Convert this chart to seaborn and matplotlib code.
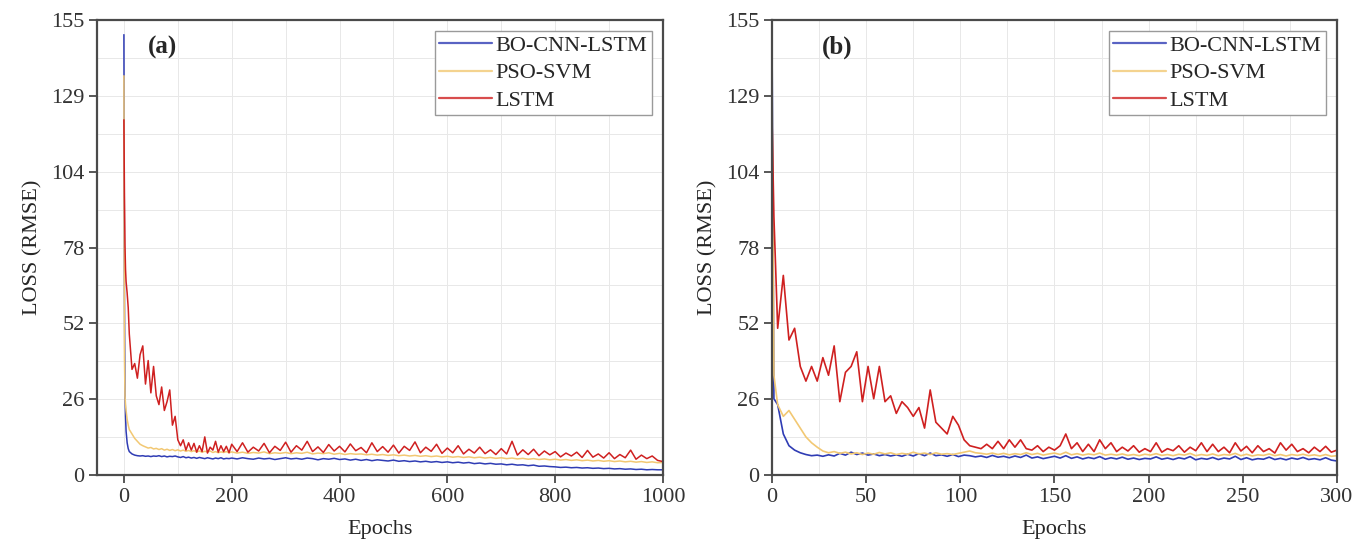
import numpy as np
import pandas as pd
import matplotlib
matplotlib.use("Agg")
import matplotlib.pyplot as plt
from matplotlib.lines import Line2D
from matplotlib.ticker import MultipleLocator
import seaborn as sns

# ---- data ----
models = ["BO-CNN-LSTM", "PSO-SVM", "LSTM"]
colors = {"BO-CNN-LSTM": "#2f3cb4", "PSO-SVM": "#f2c873", "LSTM": "#cf2020"}

# panel (a): 1000 epochs
epochs_a = [0, 1, 2, 3, 4, 6, 8] + list(range(10, 200, 5)) + list(range(200, 1001, 10))

bo_a = [150, 60, 28, 20, 15, 11, 9,
        8, 7.2, 6.8, 6.6, 6.5, 6.6, 6.4, 6.5, 6.3, 6.5, 6.4, 6.6, 6.3, 6.5, 6.2, 6.4, 6.3, 6.5, 6.2,
        6.0, 6.3, 5.9, 6.1, 5.8, 6.0, 5.7, 6.0, 5.8, 5.6, 5.9, 5.7, 5.5, 5.8, 5.6, 5.9, 5.5, 5.7, 5.6,
        5.8, 5.5, 5.9, 5.6, 5.4, 5.8, 5.5, 5.7, 5.3, 5.6,
        5.9, 5.5, 5.7, 5.4, 5.8, 5.6, 5.2, 5.6, 5.4, 5.7,
        5.3, 5.5, 5.1, 5.4, 5.0, 5.3, 4.9, 5.2, 5.0, 4.8,
        5.1, 4.7, 4.9, 4.6, 4.8, 4.5, 4.7, 4.4, 4.6, 4.3,
        4.5, 4.2, 4.4, 4.1, 4.3, 3.9, 4.1, 3.8, 4.0, 3.7,
        3.8, 3.5, 3.7, 3.4, 3.5, 3.2, 3.4, 3.0, 3.1, 2.9,
        2.8, 2.6, 2.7, 2.5, 2.6, 2.4, 2.5, 2.3, 2.4, 2.2,
        2.3, 2.1, 2.2, 2.0, 2.1, 1.9, 2.0, 1.8, 1.9, 1.8,
        1.8]

pso_a = [136, 40, 27, 24, 22, 19, 17,
         15.5, 14, 12.5, 11.5, 10.5, 10, 9.6, 9.2, 9.4, 8.9, 9.1, 8.7, 9.0, 8.5, 8.8, 8.4, 8.7, 8.3, 8.6,
         8.2, 8.5, 8.1, 8.4, 8.0, 8.3, 7.9, 8.2, 7.8, 8.1, 7.9, 8.2, 7.7, 8.0, 7.6, 7.9, 7.7, 8.0, 7.6,
         7.9, 7.5, 7.8, 7.4, 7.7, 7.5, 7.9, 7.3, 7.6, 7.4,
         7.7, 7.3, 7.6, 7.4, 7.8, 7.2, 7.5, 7.3, 7.6, 7.1,
         7.4, 7.0, 7.3, 7.1, 7.2, 6.9, 7.1, 6.8, 7.0, 6.7,
         6.9, 6.6, 6.8, 6.5, 6.7, 6.4, 6.6, 6.3, 6.5, 6.2,
         6.4, 6.1, 6.3, 6.0, 6.2, 5.9, 6.1, 5.8, 6.0, 5.7,
         5.9, 5.6, 5.8, 5.5, 5.7, 5.4, 5.6, 5.3, 5.5, 5.2,
         5.4, 5.1, 5.3, 5.0, 5.2, 4.9, 5.1, 4.8, 5.0, 4.7,
         4.9, 4.6, 4.8, 4.5, 4.7, 4.4, 4.6, 4.3, 4.5, 4.2,
         4.3]

lstm_a = [121, 95, 78, 70, 66, 62, 57,
          48, 36, 38, 33, 41, 44, 31, 39, 28, 37, 27, 24, 30, 22, 25, 29, 17, 20, 12,
          10, 12, 8.5, 11, 8.5, 10.8, 7.8, 10, 8, 13, 7.5, 9.5, 8.5, 11.5, 7.8, 10, 8, 9.8, 7.6,
          10.5, 8, 11, 7.8, 9.5, 8.2, 10.8, 7.6, 9.8, 8.4,
          11.2, 7.8, 10, 8.5, 11.5, 8, 9.6, 7.7, 10.4, 8.2,
          9.8, 7.9, 10.6, 8.3, 9.4, 7.6, 11, 8, 9.7, 7.8,
          10.2, 7.5, 9.8, 8.4, 11.3, 7.6, 9.5, 8.1, 10.5, 7.4,
          9.2, 7.6, 10, 7.2, 8.8, 7.5, 9.5, 7.3, 8.6, 7.0,
          9.0, 7.2, 11.5, 6.8, 8.6, 7.0, 8.8, 6.6, 8.2, 6.9,
          8.0, 6.2, 7.5, 6.5, 7.8, 6.0, 8.4, 6.1, 7.2, 5.8,
          7.6, 5.6, 7.0, 5.9, 8.5, 5.4, 6.8, 5.6, 6.5, 5.0,
          4.6]

# panel (b): 300 epochs
epochs_b = [0, 1] + list(range(3, 301, 3))

bo_b = [148, 26,
        24, 14, 10, 8.5, 7.6, 7.0, 6.6, 6.8, 6.4, 6.9,
        6.5, 7.4, 6.8, 7.8, 7.0, 7.5, 6.8, 7.2, 6.6, 7.0,
        6.5, 6.9, 6.4, 7.1, 6.5, 7.3, 6.6, 7.5, 6.6, 6.9,
        6.4, 7.0, 6.3, 6.8, 6.6, 6.2, 6.5, 6.0, 6.7, 6.1,
        6.4, 5.9, 6.5, 6.0, 6.8, 5.8, 6.2, 5.6, 6.0, 6.4,
        5.8, 6.6, 5.7, 6.2, 5.5, 6.0, 5.6, 6.3, 5.4, 5.9,
        5.5, 6.1, 5.4, 5.8, 5.3, 5.7, 5.5, 6.2, 5.4, 5.8,
        5.3, 5.9, 5.5, 6.3, 5.2, 5.7, 5.4, 6.0, 5.3, 5.8,
        5.5, 6.4, 5.3, 5.9, 5.2, 5.6, 5.4, 6.1, 5.3, 5.7,
        5.2, 5.8, 5.4, 6.0, 5.3, 5.6, 5.2, 5.9, 5.1, 4.8]

pso_b = [135, 34,
         24, 20, 22, 19, 16, 13, 11, 9.5, 8.2, 7.6,
         8.0, 7.4, 7.8, 7.2, 7.6, 7.0, 7.5, 7.1, 7.7, 7.2,
         7.6, 7.0, 7.4, 7.1, 7.8, 7.2, 7.5, 7.0, 7.6, 7.1,
         7.3, 7.0, 7.4, 7.8, 8.2, 7.6, 7.4, 7.1, 7.5, 7.0,
         7.4, 6.9, 7.3, 7.0, 7.6, 7.0, 7.4, 6.8, 7.2, 7.5,
         7.0, 7.8, 6.9, 7.3, 6.8, 7.2, 6.9, 7.5, 6.8, 7.1,
         6.8, 7.2, 6.7, 7.0, 6.6, 7.1, 6.8, 7.3, 6.7, 7.0,
         6.6, 7.1, 6.8, 7.4, 6.6, 7.0, 6.7, 7.2, 6.6, 7.0,
         6.8, 7.4, 6.6, 7.1, 6.5, 6.9, 6.7, 7.2, 6.6, 7.0,
         6.5, 7.0, 6.7, 7.1, 6.6, 6.9, 6.5, 7.0, 6.4, 6.6]

lstm_b = [121, 88,
          50, 68, 46, 50, 37, 32, 37, 32, 40, 34,
          44, 25, 35, 37, 42, 25, 37, 26, 37, 25,
          27, 21, 25, 23, 20, 23, 16, 29, 18, 16,
          14, 20, 17, 12, 10, 9.5, 9, 10.5, 9, 11.5,
          9, 12, 9.5, 12, 9, 8.5, 10, 8, 9.5, 8.5,
          10, 14, 9, 11, 8, 10.5, 8, 12, 9, 11,
          8, 9.5, 8.2, 10, 7.8, 9, 8, 11, 7.8, 9,
          8.3, 10, 7.8, 9.5, 8.3, 11, 8, 10.5, 8, 9.5,
          7.6, 11, 8.2, 9.8, 7.6, 10, 8, 9, 7.5, 11,
          8.5, 10.5, 8, 9, 7.6, 9.5, 8, 9.8, 7.8, 8.5]

y_ticks = np.linspace(0, 155, 7)
y_labels = ["0", "26", "52", "78", "104", "129", "155"]


def long_df(epochs, series):
    frames = []
    for name, vals in zip(models, series):
        frames.append(pd.DataFrame({"Epoch": epochs, "Loss": vals, "Model": name}))
    return pd.concat(frames, ignore_index=True)


df_a = long_df(epochs_a, [bo_a, pso_a, lstm_a])
df_b = long_df(epochs_b, [bo_b, pso_b, lstm_b])

sns.set_theme(style="ticks")
plt.rcParams["font.family"] = ["Liberation Serif", "DejaVu Serif"]
plt.rcParams["axes.edgecolor"] = "#4a4a4a"
plt.rcParams["xtick.color"] = "#4a4a4a"
plt.rcParams["ytick.color"] = "#4a4a4a"
plt.rcParams["xtick.labelcolor"] = "#333333"
plt.rcParams["ytick.labelcolor"] = "#333333"

fig = plt.figure(figsize=(13.58, 5.55), dpi=100)
ax1 = fig.add_axes([0.0714, 0.144, 0.4168, 0.820])
ax2 = fig.add_axes([0.5685, 0.144, 0.4160, 0.820])

panels = [(ax1, df_a, "(a)", (-50, 1000), 200, 100, 1.1),
          (ax2, df_b, "(b)", (0, 300), 50, 25, 1.2)]

for ax, df, tag, xlim, major, minor, lw in panels:
    sns.lineplot(data=df, x="Epoch", y="Loss", hue="Model", palette=colors,
                 hue_order=models, estimator=None, sort=False, linewidth=lw,
                 legend=False, ax=ax)
    ax.set_xlim(*xlim)
    ax.set_ylim(0, 155)
    ax.xaxis.set_major_locator(MultipleLocator(major))
    ax.xaxis.set_minor_locator(MultipleLocator(minor))
    ax.set_yticks(y_ticks)
    ax.set_yticklabels(y_labels)
    ax.set_yticks(np.linspace(0, 155, 13), minor=True)
    ax.grid(which="both", color="#e8e8e8", linewidth=0.7)
    ax.set_axisbelow(True)
    ax.tick_params(which="major", length=6, width=1.3, labelsize=16, pad=3)
    ax.tick_params(which="minor", length=0)
    for s in ax.spines.values():
        s.set_linewidth(1.6)
    ax.set_xlabel("Epochs", fontsize=16, labelpad=10)
    ax.set_ylabel("LOSS (RMSE)", fontsize=16, labelpad=6)
    ax.text(0.115, 0.94, tag, transform=ax.transAxes, fontsize=18,
            fontweight="bold", ha="center", va="center")
    handles = [Line2D([], [], color=colors[m], lw=1.6, alpha=0.8) for m in models]
    leg = ax.legend(handles, models, loc="upper right", fontsize=16,
                    frameon=True, fancybox=False, framealpha=1,
                    edgecolor="#9a9a9a", handlelength=2.4, handletextpad=0.15,
                    labelspacing=0.3, borderpad=0.2, borderaxespad=0.5)
    leg.get_frame().set_linewidth(1.0)

fig.savefig("out.png", dpi=100)
